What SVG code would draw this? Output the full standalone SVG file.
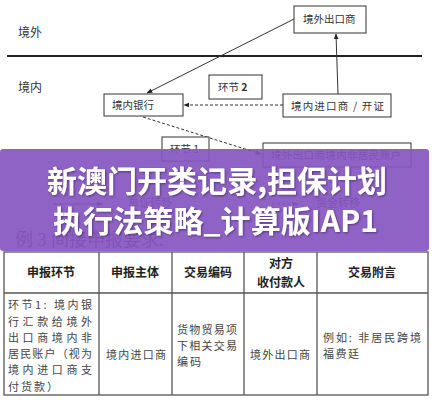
<svg xmlns="http://www.w3.org/2000/svg" width="432" height="400" viewBox="0 0 432 400">
<defs>
<marker id="ah" viewBox="0 0 10 10" refX="9" refY="5" markerWidth="6" markerHeight="6" orient="auto-start-reverse" markerUnits="userSpaceOnUse">
<path d="M0,1 L10,5 L0,9 z" fill="#222"/>
</marker>
<filter id="sh" x="-5%" y="-20%" width="110%" height="140%">
<feDropShadow dx="1" dy="1" stdDeviation="0.8" flood-color="#3a2060" flood-opacity="0.7"/>
</filter>
</defs>
<style>
.box{fill:#fff;stroke:#333;stroke-width:1}
.t{font-family:"Noto Sans CJK SC","Noto Sans",sans-serif;fill:#333}
.d{font-size:10.5px}
.ln{stroke:#333;stroke-width:1;fill:none}
.dash{stroke-dasharray:3,2}
.tb{fill:none;stroke:#555;stroke-width:1.3}
.th{font-family:"Noto Sans CJK SC",sans-serif;font-size:12px;font-weight:bold;fill:#222}
.tc{font-family:"Noto Sans CJK SC",sans-serif;font-size:11px;fill:#444}
.ttl{font-family:"Noto Sans CJK SC","Noto Sans",sans-serif;font-size:30px;font-weight:bold;fill:#fff}
</style>
<rect x="0" y="0" width="432" height="400" fill="#fff"/>

<text class="t" x="18" y="37" font-size="12">境外</text>
<text class="t" x="18" y="92" font-size="12">境内</text>
<line x1="7" y1="56" x2="422" y2="56" stroke="#222" stroke-width="1.8"/>

<g id="connectors">
<line class="ln" x1="294" y1="19" x2="147" y2="93" marker-end="url(#ah)"/>
<line class="ln" x1="338" y1="94" x2="336" y2="34" marker-end="url(#ah)"/>
<line class="ln dash" x1="283" y1="105" x2="184" y2="105" marker-end="url(#ah)"/>
<line class="ln dash" x1="143" y1="117" x2="261" y2="154" marker-end="url(#ah)"/>
<line class="ln" x1="53" y1="204" x2="102" y2="204" marker-end="url(#ah)"/>
<line class="ln dash" x1="272" y1="204" x2="298" y2="204" marker-end="url(#ah)"/>
</g>

<g id="n-exporter">
<rect class="box" x="294" y="6" width="72" height="27"/>
<text class="t d" x="303" y="23">境外出口商</text>
</g>
<g id="n-step2">
<rect class="box" x="209" y="75" width="53" height="24"/>
<text class="t d" x="218" y="91">环节 <tspan font-weight="bold">2</tspan></text>
</g>
<g id="n-bank">
<rect class="box" x="104" y="94" width="79" height="22"/>
<text class="t d" x="112" y="109">境内银行</text>
</g>
<g id="n-importer">
<rect class="box" x="283" y="94" width="108" height="23"/>
<text class="t d" x="291" y="110" textLength="93" lengthAdjust="spacing">境内进口商 / 开证</text>
</g>
<g id="n-step1">
<rect class="box" x="162" y="137" width="47" height="24"/>
<text class="t d" x="170" y="153">环节 1</text>
</g>
<g id="n-account">
<rect class="box" x="263" y="143" width="148" height="24"/>
<text class="t d" x="271" y="159" textLength="130" lengthAdjust="spacing">境外出口商境内非居民账户</text>
</g>
<g id="legend">
<text class="t" x="128" y="207" font-size="11">单证转移</text>
<text class="t" x="316" y="207" font-size="11">资金转移</text>
</g>
<text x="15" y="246" font-family="'Liberation Serif','Noto Sans CJK SC',serif" font-size="18" fill="#444">例 3 间接申报要求:</text>

<g id="table">
<rect class="tb" x="4" y="252" width="424" height="143"/>
<line class="tb" x1="4" y1="293" x2="428" y2="293"/>
<line class="tb" x1="99" y1="252" x2="99" y2="395"/>
<line class="tb" x1="172" y1="252" x2="172" y2="395"/>
<line class="tb" x1="244" y1="252" x2="244" y2="395"/>
<line class="tb" x1="317" y1="252" x2="317" y2="395"/>
<g text-anchor="middle">
<text class="th" x="51" y="277">申报环节</text>
<text class="th" x="135" y="277">申报主体</text>
<text class="th" x="208" y="277">交易编码</text>
<text class="th" x="281" y="268">对方</text>
<text class="th" x="281" y="287">收付款人</text>
<text class="th" x="372" y="277">交易附言</text>
</g>
<text class="tc" x="8" y="309" textLength="84" lengthAdjust="spacing">环节1: 境内银</text>
<text class="tc" x="8" y="326" textLength="84" lengthAdjust="spacing">行汇款给境外</text>
<text class="tc" x="8" y="342" textLength="84" lengthAdjust="spacing">出口商境内非</text>
<text class="tc" x="8" y="358" textLength="84" lengthAdjust="spacing">居民账户（视为</text>
<text class="tc" x="8" y="374" textLength="84" lengthAdjust="spacing">境内进口商支</text>
<text class="tc" x="8" y="391" textLength="50" lengthAdjust="spacing">付货款）</text>
<text class="tc" x="106" y="359" textLength="60" lengthAdjust="spacing">境内进口商</text>
<text class="tc" x="177" y="334" textLength="60" lengthAdjust="spacing">货物贸易项</text>
<text class="tc" x="177" y="350" textLength="60" lengthAdjust="spacing">下相关交易</text>
<text class="tc" x="177" y="366" textLength="24" lengthAdjust="spacing">编码</text>
<text class="tc" x="250" y="359" textLength="60" lengthAdjust="spacing">境外出口商</text>
<text class="tc" x="323" y="342" textLength="98" lengthAdjust="spacing">例如: 非居民跨境</text>
<text class="tc" x="323" y="358" textLength="36" lengthAdjust="spacing">福费廷</text>
</g>

<g id="banner">
<rect x="0" y="149" width="429" height="102" rx="3" fill="#8656c0" fill-opacity="0.92"/>
<g filter="url(#sh)">
<text class="ttl" x="47" y="192" textLength="340" lengthAdjust="spacing">新澳门开类记录,担保计划</text>
<text class="ttl" x="53" y="232" textLength="325" lengthAdjust="spacing">执行法策略_计算版IAP1</text>
</g>
</g>
</svg>
